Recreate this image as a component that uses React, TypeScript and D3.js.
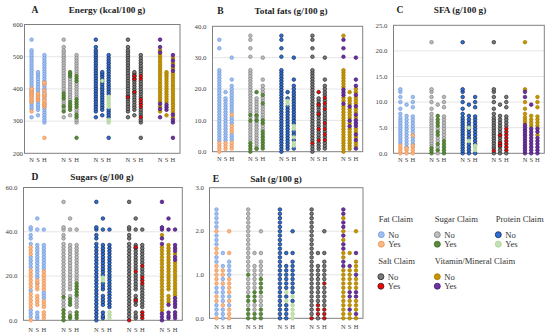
import React from "react";
import * as d3 from "d3";

const energyN = [312,330,338,346,354,362,370,378,386,394,402,410,418,426,434,442,450,458,466,474,482,490,498,505,513,520,530,553];
const energyS = [318,335,343,351,359,367,375,383,391,399,407,415,423,431,439,446,452];
const energyH = [248,296,304,312,320,328,336,344,352,360,368,376,384,392,400,408,416,424,432,440,448,456,464,472,480,488,496,505];
const fatsN = [0,0.9,1.8,2.7,3.6,4.5,5.4,6.3,7.2,8.1,9,9.9,10.8,11.7,12.6,13.5,14.4,15.3,16.2,17.1,18,18.9,19.8,20.7,21.6,22.5,23.4,24.3,25.2,26,30.3,33,35.7,37];
const fatsS = [0.9,1.8,2.7,3.6,4.5,5.4,6.3,7.2,8.1,9,9.9,10.8,11.7,12.6,13.5,14.4,15.3,16.2,17,19];
const fatsH = [1,1.9,2.8,3.7,4.6,5.5,6.4,7.3,8.2,9.1,10,10.9,11.8,12.7,13.6,14.5,15.4,16.3,17.2,18.1,19,20,21,23,30];
const sfaN = [0,0.5,1,1.5,2,2.5,3,3.5,4,4.5,5,5.5,6,6.5,7,7.7,8.7,10,11,12,12.5,21.7];
const sfaS = [0,0.6,1.2,1.8,2.4,3,3.6,4.2,4.8,5.4,6,6.6,7.3,9.5];
const sfaH = [0,0.6,1.2,1.8,2.4,3,3.6,4.2,4.8,5.4,6,6.6,7.2,9,10,11];
const sugarsN = [0,1.5,3,4.5,6,7.5,9,10.5,12,13.5,15,16.5,18,19.5,21,22.5,24,25.5,27,28.5,30,31.5,33,34.5,37,38.5,41,42,53.5];
const sugarsS = [1,2,3.5,7,8.3,9.6,11,14,15.3,16.6,18,19.3,20.6,22,23.3,24.6,26,27.3,28.6,30,31.3,32.6,34,41,46];
const sugarsH = [1,2.3,3.6,6,7.3,8.6,10,11.3,12.6,14,15.3,16.6,18,19.3,20.6,22,23.3,24.6,26,27.3,28.6,30,31.3,32.6,34,41];
const saltN = [0,0.1,0.2,0.3,0.4,0.5,0.6,0.7,0.8,0.9,1,1.1,1.2,1.3,1.4,1.5,1.6,1.7,1.8,1.9,2,2.1,2.2,2.3,2.4,2.5];
const saltS = [0,0.1,0.2,0.3,0.4,0.5,0.6,0.7,0.8,0.9,1,1.1,1.2,1.5];
const saltH = [0,0.1,0.2,0.3,0.4,0.5,0.6,0.7,0.8,0.9,1,1.1,1.2,1.3,1.5,2];

const fatMissing = [[530],[],[],[30.3,37],[],[],[21.7],[],[],[53.5],[],[],[],[],[]];

const fatYes = [[330,360,365,370,375,380,385,390,395,400],[365,370,375,380,385],[248,345,350,355,360,365,375,380,385,395,415,420],
  [0,0.9,1.8,2.7],[0.9,1.8,2.7],[1,1.9,2.8,6.4,7.3,8.2,11.8],
  [0,0.5,1,1.5],[0,0.6,1],[0,0.6,1.2,1.5,3.5],
  [0,6,7.5,9,10.5,12,15,16.5,18,19.5,21,22.5,30,31.5,33],[7,8.3,9.6,11,14,15.3,17,18],[1,2.3,3.6,6,7.3,8.6,14,15.3,16.6,18,19.3,20.6,22],
  [0,0.4,0.5,0.8,0.9,1,1.1,1.2,1.5,1.6,2],[0.3,0.8,1,1.1],[0,0.1,0.2,0.4,0.6,0.7,0.8,0.9,1.5,2]];
const sugarYes = [[330,346,370,378,386],[335,343,351,359,439,446,452],[248,312,320,344,352,360,368,424,432,440],
  [0,0.9,1.8,2.7,9.9,11.7],[1,10,11.5,19],[1,1.9,2.8,3.7,4.6,5.5,6.4,9.1,10,15.4,18.1],
  [0,0.5,1],[0.6,1.8,3.6,4.2,5.4,6,6.6,7.3],[0,0.6,1.2,1.8,2.4],
  [0,1.5,3,4.5,10.5],[1,2,7,8.3,9.6],[1,2.3,3.6,11.3,12.6,14,15.3,16.6],
  [0,0.1,0.2,0.4,0.5,1],[0,0.1,0.4,0.5,0.6],[0,0.1,0.2,0.6,0.7,0.8,0.9]];
const proteinYes = [[],[425],[296,304,344,352,360,368,376],
  [],[15.3,16.2],[1.9,2.8,4.6,7.3,8.2],
  [],[2.4,5],[0.6,1.2,1.5],
  [],[18,19.3],[1,2.3,3.6],
  [],[0.4,0.6],[0,0.1,0.2,0.3,0.5]];
const saltYes = [[375],[390,430,440],[312,344,352,360,368,432,440],
  [2.7],[3.6,7.2,12,15,19],[3.7,5.5,7.3,9.1,13.6,15.4,17.2],
  [0.5],[1.5,2,3.5],[0.6,1.2,1.8,2.4,3,3.6,4.2,4.8],
  [0],[9,22,33],[1,2.3,3.6,16.6,18,19.3,24.6],
  [0],[0.1,0.2,0.3],[0,0.1,0.2,0.8]];
const vitaminYes = [[312,338,354,513,530,553],[335,343,351],[248,296,304,320,456,472,488,505],
  [15.3,18,18.9,19.8,30.3,33,35.7],[8.1,9.9,14.4],[1,3.7,5.5,8.2,9.1,10,11.8,14.5,18.1,21,23,30],
  [0,0.5,1,1.5,2,2.5,3,3.5,4,4.5,5,5.5,11,12],[0,0.6,1.2,1.8,2.4,3,3.6,4.2,4.8,9.5],[0,0.6,1.2,1.8,2.4,3,4.2,4.8],
  [0,1.5,3,34.5,37,41,42,53.5],[1,2,3.5,7,41,46],[1,2.3,3.6,6,7.3,8.6,10,27.3,28.6,31.3,32.6,34,41],
  [1.2,1.3,1.6,1.7,1.9,2.1,2.2,2.4,2.5],[0.2,0.5,0.6,1.2],[0.1,0.5,0.6,1,1.5]];

const panelLetters = ["A","B","C","D","E"];
const panelTitles = ["Energy (kcal/100 g)","Total fats (g/100 g)","SFA (g/100 g)","Sugars (g/100 g)","Salt (g/100 g)"];
const panelCols = [[energyN,energyS,energyH],[fatsN,fatsS,fatsH],[sfaN,sfaS,sfaH],[sugarsN,sugarsS,sugarsH],[saltN,saltS,saltH]];
const panelDomains = [[200,600],[0,40],[0,25],[0,60],[0,3]];
const panelTicks = [[200,300,400,500,600],[0,10,20,30,40],[0,5,10,15,20,25],[0,20,40,60],[0,1,2,3]];
const tickDigits = [0,1,1,1,1];
const columnLabels = ["N","S","H"];

const frames = [
  { l: 24.5, r: 180, t: 24.5, b: 153.3, lx: 35, cx: 107, ty: 10, ly: 159.5, gap: 1.5 },
  { l: 212.5, r: 362.7, t: 26.3, b: 151.7, lx: 220.5, cx: 291, ty: 11, ly: 159, gap: 6 },
  { l: 393.5, r: 544.3, t: 25.3, b: 153.3, lx: 400, cx: 460, ty: 9.5, ly: 160, gap: 6 },
  { l: 23.5, r: 182.3, t: 187.5, b: 320.3, lx: 35, cx: 102, ty: 177, ly: 330, gap: 6 },
  { l: 209.5, r: 363, t: 187.7, b: 318.3, lx: 216, cx: 276, ty: 179, ly: 326.5, gap: 5.5 },
];

const claims = [
  { name: "Fat Claim", no: ["#a3bfee", "#6d9be0"], yes: ["#f7b88a", "#ef8f4c"], yesVals: fatYes, lx: 378.7, ly: 219 },
  { name: "Sugar Claim", no: ["#bdbdbd", "#7f7f7f"], yes: ["#5b8a3a", "#3f6a28"], yesVals: sugarYes, lx: 434.7, ly: 219 },
  { name: "Protein Claim", no: ["#2a70d8", "#16274d"], yes: ["#c5e0b4", "#a9d18e"], yesVals: proteinYes, lx: 495.7, ly: 219 },
  { name: "Salt Claim", no: ["#7a7a7a", "#262626"], yes: ["#ff0000", "#262626"], yesVals: saltYes, lx: 378.3, ly: 261 },
  { name: "Vitamin/Mineral Claim", no: ["#c49500", "#a57c00"], yes: ["#7030a0", "#3c1a70"], yesVals: vitaminYes, lx: 434.7, ly: 261 },
];

const serif = "'Liberation Serif', serif";

function Panel({ index }: { index: number }) {
  const f = frames[index];
  const x = d3.scaleLinear().domain([-1.1, 23.1]).range([f.l, f.r]);
  const y = d3.scaleLinear().domain(panelDomains[index]).range([f.b, f.t]);
  const fmt = d3.format(`.${tickDigits[index]}f`);
  const cols = panelCols[index];
  return (
    <g>
      {panelTicks[index].slice(1, -1).map((t) => (
        <line key={t} x1={f.l} x2={f.r} y1={y(t)} y2={y(t)} stroke="#e6e6e6" strokeWidth={1} />
      ))}
      <rect x={f.l} y={f.t} width={f.r - f.l} height={f.b - f.t} fill="none" stroke="#808080" strokeWidth={1} />
      {panelTicks[index].map((t) => (
        <text key={t} x={f.l - f.gap} y={y(t)} dy="0.33em" textAnchor="end" fontSize={6.8} fill="#404040" fontFamily={serif}>{fmt(t)}</text>
      ))}
      <text x={f.lx} y={f.ty} dy="0.33em" textAnchor="middle" fontSize={9.5} fontWeight="bold" fill="#222" fontFamily={serif}>{panelLetters[index]}</text>
      <text x={f.cx} y={f.ty} dy="0.33em" textAnchor="middle" fontSize={9.2} fontWeight="bold" fill="#222" fontFamily={serif}>{panelTitles[index]}</text>
      {claims.map((c, g) =>
        cols.map((vals, k) => {
          const yes = c.yesVals[index * 3 + k];
          const skip = g === 0 ? fatMissing[index * 3 + k] : [];
          const px = x(g * 5 + k);
          return (
            <g key={`${g}-${k}`}>
              {vals.filter((v) => !skip.includes(v) && !yes.includes(v)).map((v, i) => (
                <circle key={i} cx={px} cy={y(v)} r={1.8} fill={c.no[0]} stroke={c.no[1]} strokeWidth={0.7} />
              ))}
              {yes.map((v, i) => (
                <circle key={i} cx={px} cy={y(v)} r={1.8} fill={c.yes[0]} stroke={c.yes[1]} strokeWidth={0.7} />
              ))}
              <text x={px} y={f.ly} dy="0.33em" textAnchor="middle" fontSize={6.5} fill="#404040" fontFamily={serif}>{columnLabels[k]}</text>
            </g>
          );
        })
      )}
    </g>
  );
}

function Legend() {
  return (
    <g fontFamily={serif} fontSize={8.6} fill="#333">
      {claims.map((c) => (
        <g key={c.name}>
          <text x={c.lx} y={c.ly} dy="0.33em">{c.name}</text>
          {[["No", c.no, 15.7], ["Yes", c.yes, 25.2]].map(([lab, col, dy]: any) => (
            <g key={lab}>
              <circle cx={c.lx + 2.6} cy={c.ly + dy} r={3} fill={col[0]} stroke={col[1]} strokeWidth={0.8} />
              <text x={c.lx + 9.5} y={c.ly + dy} dy="0.33em">{lab}</text>
            </g>
          ))}
        </g>
      ))}
    </g>
  );
}

export default function App() {
  return (
    <svg width={550} height={336} style={{ position: "absolute", left: 0, top: 0, background: "#fff" }}>
      {panelLetters.map((_, i) => <Panel key={i} index={i} />)}
      <Legend />
    </svg>
  );
}
